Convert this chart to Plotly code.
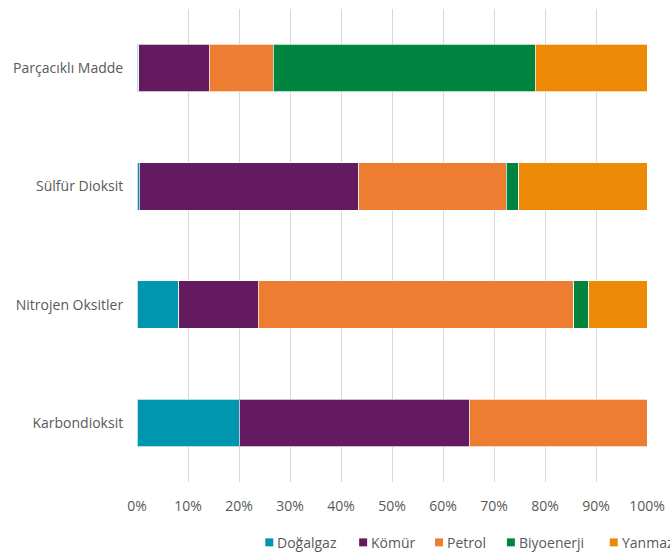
import plotly.graph_objects as go

categories = ["Karbondioksit", "Nitrojen Oksitler", "Sülfür Dioksit", "Parçacıklı Madde"]
series_names = ["Doğalgaz", "Kömür", "Petrol", "Biyoenerji", "Yanmaz"]
dogalgaz = [20.0, 8.2, 0.4, 0.35]
komur = [45.1, 15.6, 43.1, 13.85]
petrol = [34.9, 61.8, 28.9, 12.5]
biyoenerji = [0.0, 3.0, 2.5, 51.4]
yanmaz = [0.0, 11.4, 25.1, 21.9]
tick_vals = [0, 10, 20, 30, 40, 50, 60, 70, 80, 90, 100]
tick_text = [f"{v}%" for v in tick_vals]

values = [dogalgaz, komur, petrol, biyoenerji, yanmaz]
colors = ["#0096B0", "#631A5F", "#ED7D31", "#00843F", "#EC8905"]

W, H = 670, 554
# plot area in window pixels: x 136.5..647.3, y 8.5..482.5
ML = 136.5
MR = W - 647.3
MT = 8.5
MB = H - 482.5
PW, PH = W - ML - MR, H - MT - MB

def px_x(px):
    return (px - ML) / PW

def px_y(py):
    return (H - MB - py) / PH

FONT = "Open Sans, Liberation Sans, sans-serif"
FS = 14
TXT = "#595959"

fig = go.Figure()
for name, vals, col in zip(series_names, values, colors):
    fig.add_trace(go.Bar(
        y=categories, x=vals, name=name, orientation="h",
        marker=dict(color=col, line=dict(color="rgba(255,255,255,0.7)", width=1)),
        width=0.4, showlegend=False,
    ))

# manual legend (Excel-like compact layout)
legend_px = [265, 359, 435, 507, 610]
legend_y = 543
shapes = []
annotations = []
for name, col, lx in zip(series_names, colors, legend_px):
    shapes.append(dict(type="rect", xref="paper", yref="paper",
                       x0=px_x(lx), x1=px_x(lx + 8),
                       y0=px_y(legend_y + 4), y1=px_y(legend_y - 4),
                       fillcolor=col, line=dict(width=0)))
    annotations.append(dict(xref="paper", yref="paper", x=px_x(lx + 11), y=px_y(legend_y),
                            text=name, showarrow=False, xanchor="left", yanchor="middle",
                            xshift=-1,
                            font=dict(family=FONT, size=FS, color=TXT)))

fig.update_layout(
    width=W, height=H,
    barmode="stack",
    plot_bgcolor="white", paper_bgcolor="white",
    margin=dict(l=ML, r=MR, t=MT, b=MB, autoexpand=False),
    font=dict(family=FONT, size=FS, color=TXT),
    xaxis=dict(range=[0, 100], tickvals=tick_vals, ticktext=tick_text,
               showgrid=True, gridcolor="#D9D9D9", gridwidth=1, zeroline=False,
               showline=False, ticks="outside", ticklen=11, tickcolor="rgba(0,0,0,0)",
               tickfont=dict(family=FONT, size=FS, color=TXT)),
    yaxis=dict(showgrid=False, zeroline=False, showline=False,
               ticks="outside", ticklen=10, tickcolor="rgba(0,0,0,0)",
               tickfont=dict(family=FONT, size=FS, color=TXT)),
    bargap=0.6,
    shapes=shapes,
    annotations=annotations,
)

fig.write_html(
    "out.html",
    config={"displayModeBar": False},
    post_script="document.body.style.margin='0';document.body.style.overflow='hidden';",
)
